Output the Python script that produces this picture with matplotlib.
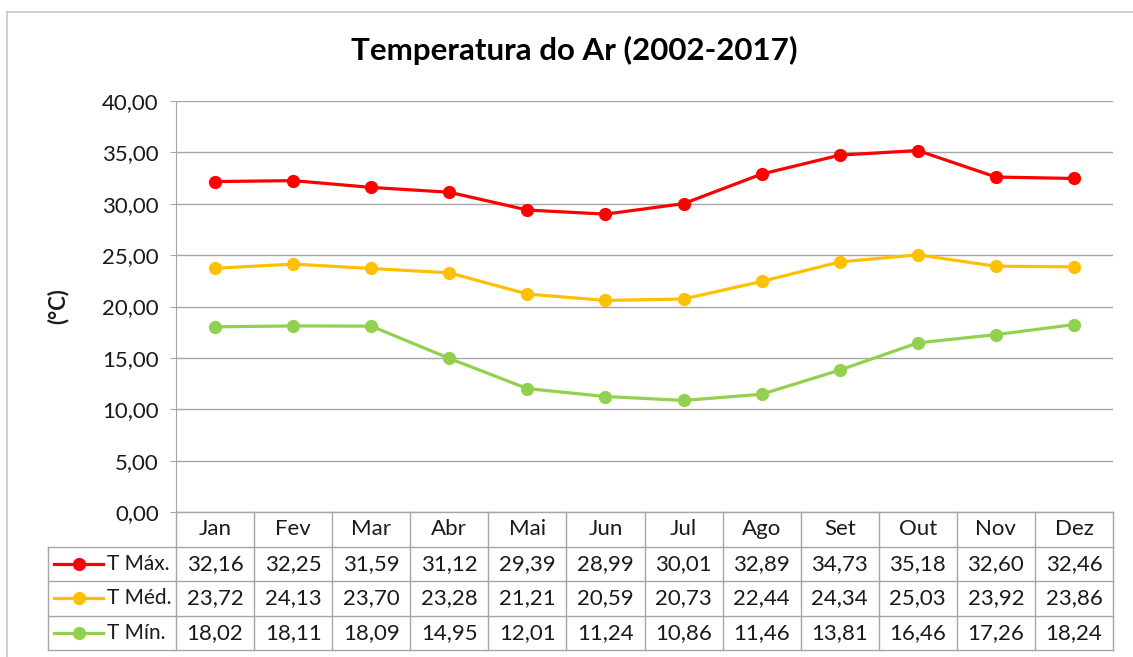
import numpy as np
import matplotlib.pyplot as plt
from matplotlib.lines import Line2D

plt.rcParams['font.family'] = ['Lato', 'DejaVu Sans']

# data
months = ["Jan", "Fev", "Mar", "Abr", "Mai", "Jun", "Jul", "Ago", "Set", "Out", "Nov", "Dez"]
t_max = [32.16, 32.25, 31.59, 31.12, 29.39, 28.99, 30.01, 32.89, 34.73, 35.18, 32.60, 32.46]
t_med = [23.72, 24.13, 23.70, 23.28, 21.21, 20.59, 20.73, 22.44, 24.34, 25.03, 23.92, 23.86]
t_min = [18.02, 18.11, 18.09, 14.95, 12.01, 11.24, 10.86, 11.46, 13.81, 16.46, 17.26, 18.24]
series_names = ["T Máx.", "T Méd.", "T Mín."]
series_colors = ["#FF0000", "#FFC000", "#92D050"]
yticks = np.arange(0, 41, 5)

W, H = 1133, 657
fig = plt.figure(figsize=(W / 100, H / 100), dpi=100)

def px(x0, y0, x1, y1):
    # pixel box (top-left origin) -> figure fraction rect
    return [x0 / W, 1 - y1 / H, (x1 - x0) / W, (y1 - y0) / H]

grey = "#A6A6A6"
txt = "#1A1A1A"
fs = 16

# outer chart border (clipped at right/bottom like the reference)
fig.add_artist(Line2D([7 / W, 1], [1 - 12 / H] * 2, transform=fig.transFigure, color="#C8C8C8", lw=1.2))
fig.add_artist(Line2D([7 / W] * 2, [0, 1 - 12 / H], transform=fig.transFigure, color="#C8C8C8", lw=1.2))

ax = fig.add_axes(px(176, 101, 1113, 512))
x = np.arange(len(months))
for vals, c in zip([t_max, t_med, t_min], series_colors):
    ax.plot(x, vals, color=c, lw=2.3, marker="o", ms=8.5, zorder=3)

ax.set_xlim(-0.5, len(months) - 0.5)
ax.set_ylim(0, 40)
ax.set_yticks(yticks)
ax.set_yticklabels([f"{v:.2f}".replace(".", ",") for v in yticks], fontsize=fs, color=txt)
ax.set_xticks([])
ax.grid(axis="y", color=grey, lw=1)
for s in ["top", "right", "bottom"]:
    ax.spines[s].set_visible(False)
ax.spines["left"].set_color(grey)
ax.tick_params(axis="y", length=4.5, color=grey, pad=8)
ax.set_ylabel("(°C)", fontsize=16, fontweight="bold", color=txt, labelpad=24)
fig.text(574 / W, 1 - 50 / H, "Temperatura do Ar (2002-2017)", ha="center", va="center",
         fontsize=22.5, fontweight="bold", color="black")

# data table
tax = fig.add_axes(px(176, 512, 1113, 650))
tax.set_xlim(-0.5, len(months) - 0.5)
tax.set_ylim(4, 0)
tax.axis("off")
colpx = (1113 - 176) / len(months)
left_x = -0.5 - (176 - 48) / colpx
lk = dict(color=grey, lw=1, clip_on=False)
# horizontal lines
tax.plot([-0.5, 11.5], [0, 0], **lk)
for r in [1, 2, 3, 4]:
    tax.plot([left_x, 11.5], [r, r], **lk)
# vertical lines
for c in range(len(months) + 1):
    tax.plot([c - 0.5, c - 0.5], [0, 4], **lk)
tax.plot([left_x, left_x], [1, 4], **lk)

for i, m in enumerate(months):
    tax.text(i, 0.5, m, ha="center", va="center", fontsize=fs, color=txt)
for r, (vals, name, c) in enumerate(zip([t_max, t_med, t_min], series_names, series_colors), start=1):
    for i, v in enumerate(vals):
        tax.text(i, r + 0.5, f"{v:.2f}".replace(".", ","), ha="center", va="center",
                 fontsize=fs, color=txt)
    lx0 = left_x + 6 / colpx
    lx1 = left_x + 55 / colpx
    tax.plot([lx0, lx1], [r + 0.5, r + 0.5], color=c, lw=2.3, clip_on=False)
    tax.plot([(lx0 + lx1) / 2], [r + 0.5], color=c, marker="o", ms=8.5, clip_on=False)
    tax.text(lx1 + 4 / colpx, r + 0.5, name, ha="left", va="center", fontsize=15, color=txt)

fig.savefig("out.png", dpi=100)
